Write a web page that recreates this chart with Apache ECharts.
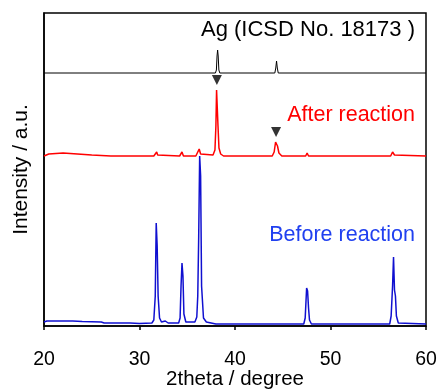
<!DOCTYPE html>
<html>
<head>
<meta charset="utf-8">
<script src="https://cdn.jsdelivr.net/npm/echarts@6/dist/echarts.min.js"></script>
<style>html,body{margin:0;padding:0;background:#fff;}#c{width:438px;height:389px;}</style>
</head>
<body>
<div id="c"></div>
<script>
// Intensities in arbitrary units (stacked offsets as drawn)
const agRef = [[20,253],[37.95,253],[38.05,256],[38.12,270],[38.18,276],[38.24,270],[38.31,256],[38.41,253],[44.17,253],[44.27,258],[44.35,265],[44.43,258],[44.53,253],[60,253]];
const afterReaction = [[20,170],[20.5,172],[22,173],[23.5,172],[25,171],[27,170],[29,170],[31.5,170],[31.7,172],[31.8,174],[31.9,171],[32.1,170],[34.2,170],[34.35,172],[34.45,174],[34.6,170],[35.9,170],[36.1,172],[36.25,177],[36.4,172],[36.6,170],[37.7,171],[37.9,176],[38.0,200],[38.07,236],[38.15,236],[38.22,200],[38.32,178],[38.5,172],[38.8,170],[43.9,170],[44.1,174],[44.25,184],[44.35,186],[44.45,180],[44.6,173],[44.9,170],[47.4,170],[47.55,173],[47.7,170],[56.3,170],[56.5,174],[56.7,171],[60,170]];
const beforeReaction = [[20,4],[20.3,5],[23,5],[24,4.5],[26,4],[26.3,3],[29,3],[30,2.5],[31.3,3],[31.5,6],[31.65,30],[31.75,103],[31.85,80],[31.95,30],[32.1,8],[32.3,4],[32.7,5],[33,3],[34.1,3],[34.25,8],[34.35,40],[34.45,63],[34.55,50],[34.65,12],[34.85,4],[35.8,4],[36.0,9],[36.1,30],[36.2,90],[36.3,170],[36.4,150],[36.5,40],[36.7,8],[37,4],[38,2],[47.2,2],[47.35,8],[47.5,38],[47.6,35],[47.7,18],[47.8,6],[48,2],[56.2,2],[56.35,10],[56.5,40],[56.6,69],[56.7,36],[56.8,30],[56.9,10],[57.1,3],[60,2]];
const agMarkers = [[38.1,246],[44.3,194]];
const xTicks = [20,30,40,50,60];

const FONT = 'Liberation Sans';
const chart = echarts.init(document.getElementById('c'), null, {renderer:'canvas'});
chart.setOption({
  animation:false,
  grid:{left:44,right:12,top:13,bottom:63,containLabel:false,outerBoundsMode:'none',show:true,borderColor:'#000',borderWidth:1.5,backgroundColor:'transparent'},
  xAxis:{type:'value',min:xTicks[0],max:xTicks[xTicks.length-1],interval:10,
    name:'2theta / degree',nameLocation:'middle',nameGap:43,nameMoveOverlap:false,
    nameTextStyle:{fontFamily:FONT,fontSize:20.5,color:'#000'},
    axisLine:{show:true,lineStyle:{color:'#000',width:1.5}},
    axisTick:{show:true,inside:false,length:4,lineStyle:{color:'#000',width:1.5}},
    axisLabel:{fontFamily:FONT,fontSize:19.5,color:'#000',margin:24},
    splitLine:{show:false}},
  yAxis:{type:'value',min:0,max:313,
    name:'Intensity / a.u.',nameLocation:'middle',nameGap:12,nameMoveOverlap:false,
    nameTextStyle:{fontFamily:FONT,fontSize:21,color:'#000'},
    axisLine:{show:true,lineStyle:{color:'#000',width:1.5}},
    axisTick:{show:false},axisLabel:{show:false},splitLine:{show:false}},
  series:[
    {type:'line',data:agRef,showSymbol:false,lineStyle:{color:'#000',width:1},z:3},
    {type:'line',data:afterReaction,showSymbol:false,lineStyle:{color:'#ff0000',width:1.5},z:3},
    {type:'line',data:beforeReaction,showSymbol:false,lineStyle:{color:'#1010d0',width:1.5},z:2},
    {type:'scatter',data:agMarkers,symbol:'triangle',symbolRotate:180,symbolSize:[10,10],itemStyle:{color:'#000'},z:4}
  ],
  graphic:[
    {type:'text',x:415,y:30,style:{text:'Ag (ICSD No. 18173 )',textAlign:'right',textVerticalAlign:'middle',font:'22px "Liberation Sans"',fill:'#000'}},
    {type:'text',x:415,y:115,style:{text:'After reaction',textAlign:'right',textVerticalAlign:'middle',font:'21.5px "Liberation Sans"',fill:'#ff0000'}},
    {type:'text',x:415,y:235,style:{text:'Before reaction',textAlign:'right',textVerticalAlign:'middle',font:'21.5px "Liberation Sans"',fill:'#2040f0'}}
  ]
});
</script>
</body>
</html>
